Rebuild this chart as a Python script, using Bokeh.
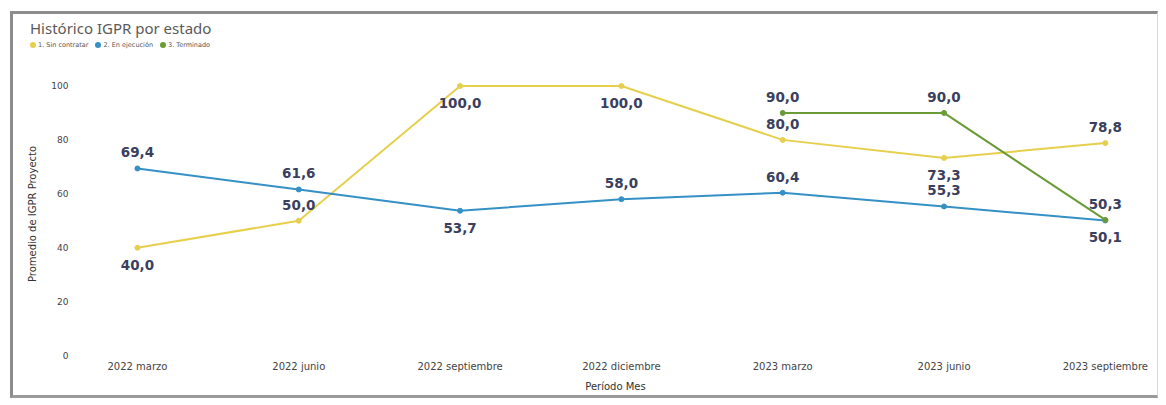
from bokeh.plotting import figure
from bokeh.layouts import column
from bokeh.models import FixedTicker, ColumnDataSource, Div
from bokeh.embed import file_html
from bokeh.resources import INLINE
from bokeh.core.properties import value

# ---- data ----
periods = ["2022 marzo", "2022 junio", "2022 septiembre", "2022 diciembre",
           "2023 marzo", "2023 junio", "2023 septiembre"]
sin_contratar = [40.0, 50.0, 100.0, 100.0, 80.0, 73.3, 78.8]
en_ejecucion = [69.4, 61.6, 53.7, 58.0, 60.4, 55.3, 50.1]
terminado_periods = ["2023 marzo", "2023 junio", "2023 septiembre"]
terminado = [90.0, 90.0, 50.3]
series_names = ["1. Sin contratar", "2. En ejecución", "3. Terminado"]
y_ticks = [0, 20, 40, 60, 80, 100]
chart_title = "Histórico IGPR por estado"

# label placement (style)
pos_sin = ["below", "above", "below", "below", "above", "below", "above"]
pos_eje = ["above", "above", "below", "above", "above", "above", "below"]
pos_ter = ["above", "above", "above"]

colors = ["#E6CF4C", "#3590C6", "#6A9B36"]
label_color = "#3B3F5E"

W = 1144

# ---- header (title + legend) as HTML text ----
legend_html = "".join(
    f'<span style="display:inline-block;width:6px;height:6px;border-radius:50%;'
    f'background:{c};vertical-align:middle;margin:0 2px 1px 0"></span>'
    f'<span style="margin-right:7px">{n}</span>'
    for n, c in zip(series_names, colors))
header_html = (
    f'<div style="margin:4px 0 0 17px;font-family:\'Noto Sans\';font-size:15px;'
    f'color:#5a5a5a;line-height:20px;white-space:nowrap">{chart_title}</div>'
    f'<div style="margin:2px 0 0 17px;font-family:\'DejaVu Sans\';font-size:6.5px;'
    f'color:#555555;line-height:10px;white-space:nowrap">{legend_html}</div>')
h = Div(text=header_html, width=W, height=44, margin=0)

# ---- main plot ----
p = figure(width=W, height=337, output_backend="svg", toolbar_location=None,
           x_range=(-0.353, 6.28), y_range=(0, 105),
           min_border_left=67, min_border_right=7, min_border_top=14, min_border_bottom=40)
p.outline_line_color = None
p.grid.grid_line_color = None

idx = {f: i for i, f in enumerate(periods)}

def fmt(v):
    return f"{v:.1f}".replace(".", ",")

for name, cats, vals, pos, col in [
    (series_names[0], periods, sin_contratar, pos_sin, colors[0]),
    (series_names[1], periods, en_ejecucion, pos_eje, colors[1]),
    (series_names[2], terminado_periods, terminado, pos_ter, colors[2]),
]:
    xs = [idx[c] for c in cats]
    src = ColumnDataSource(dict(x=xs, y=vals, lab=[fmt(v) for v in vals],
                                off=[-16 if q == "above" else 17 for q in pos]))
    p.line("x", "y", source=src, line_color=col, line_width=2)
    p.scatter("x", "y", source=src, size=5, fill_color=col, line_color=col)
    p.text("x", "y", text="lab", source=src, y_offset="off",
           text_align="center", text_baseline="middle",
           text_font=value("DejaVu Sans"), text_font_style="bold",
           text_font_size="13.5px", text_color=label_color)

p.xaxis.ticker = FixedTicker(ticks=list(range(len(periods))))
p.xaxis.major_label_overrides = {i: f for i, f in enumerate(periods)}
p.xaxis.axis_label = "Período Mes"
p.yaxis.ticker = FixedTicker(ticks=y_ticks)
p.yaxis.axis_label = "Promedio de IGPR Proyecto"
for ax in (p.xaxis, p.yaxis):
    ax.axis_line_color = None
    ax.major_tick_line_color = None
    ax.minor_tick_line_color = None
    ax.major_tick_out = 0
    ax.major_tick_in = 0
    ax.minor_tick_out = 0
    ax.minor_tick_in = 0
    ax.major_label_text_font = "DejaVu Sans"
    ax.major_label_text_color = "#444444"
    ax.axis_label_text_font = "DejaVu Sans"
    ax.axis_label_text_font_style = "normal"
    ax.axis_label_text_color = "#333333"
    ax.axis_label_text_font_size = "10px"
p.xaxis.major_label_text_font_size = "10px"
p.yaxis.major_label_text_font_size = "9px"
p.xaxis.major_label_standoff = 5
p.yaxis.major_label_standoff = 12
p.xaxis.axis_label_standoff = 6
p.yaxis.axis_label_standoff = 10

layout = column(h, p, spacing=0,
                styles={"margin-left": "10px", "margin-top": "11px",
                        "border-top": "3px solid #8c8c8c", "border-left": "3px solid #8c8c8c",
                        "border-bottom": "3px solid #9a9a9a", "border-right": "1px solid #dadada"})

open("out.html", "w").write(file_html(layout, INLINE))
